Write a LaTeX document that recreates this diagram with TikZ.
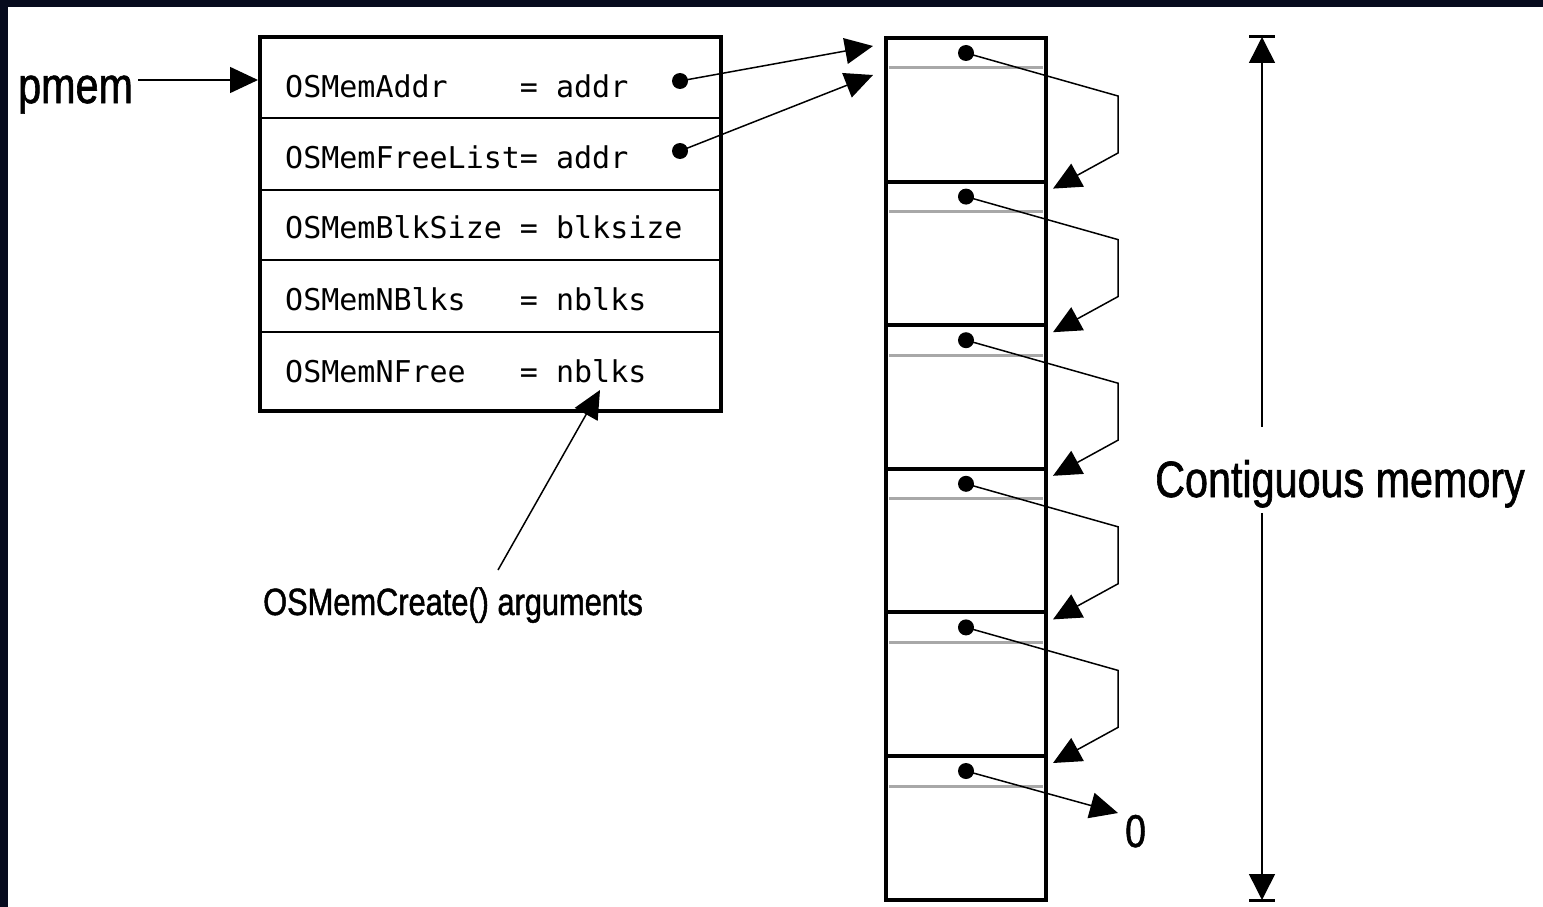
\documentclass[tikz,border=0pt]{standalone}
\usepackage{fontspec}
\setmainfont{Liberation Sans}
\newfontfamily\lblfont[FakeStretch=0.81,FakeBold=1.2]{Liberation Sans}
\newfontfamily\codefont{DejaVu Sans Mono}
\usetikzlibrary{arrows.meta}
\definecolor{slidebg}{HTML}{070B1E}
\definecolor{rulegray}{HTML}{A8A8A8}
\tikzset{
  bigtip/.style={-{Triangle[length=28pt,width=26pt]}},
  link/.style={line width=1.5pt,bigtip},
  field/.style={anchor=base west,inner sep=0pt,font=\codefont\fontsize{30}{30}\selectfont},
  dot/.style={circle,fill=black,inner sep=0pt,minimum size=16pt},
  biglbl/.style={anchor=base west,inner sep=0pt,font=\lblfont\fontsize{51}{51}\selectfont},
}
\begin{document}
\begin{tikzpicture}[x=1pt,y=-1pt]
\fill[slidebg] (0,0) rectangle (1543,907);
\fill[white] (8,7) rectangle (1543,907);
\useasboundingbox (0,0) rectangle (1543,907);
% memory control block
\draw[line width=1.8pt] (260,118) -- (721,118) (260,190) -- (721,190)
  (260,260) -- (721,260) (260,332) -- (721,332);
\draw[line width=4pt] (260,37) rectangle (721,411);
\node[field] (faddr) at (285,97) {OSMemAddr~~~~= addr};
\node[field] (ffree) at (285,168) {OSMemFreeList= addr};
\node[field] (fsize) at (285,238) {OSMemBlkSize = blksize};
\node[field] (fnblk) at (285,310) {OSMemNBlks~~~= nblks};
\node[field] (fnfree) at (285,382) {OSMemNFree~~~= nblks};
\node[dot] (daddr) at (680,81) {};
\node[dot] (dfree) at (680,151) {};
\node[biglbl] (pmem) at (18,103) {pmem};
\coordinate (cbin) at (258,80);
\draw[link] ([xshift=5pt]pmem.east |- cbin) -- (cbin);
\node[biglbl,font=\lblfont\fontsize{38}{38}\selectfont] (args) at (263,615) {OSMemCreate() arguments};
\coordinate (argfoot) at (498,570);
\coordinate (arghead) at (600,390);
\draw[link] (argfoot) -- (arghead);
% partition of blocks
\draw[line width=4pt] (886,38) rectangle (1046,900);
\foreach \k [evaluate=\k as \d using 38+143.6*\k] in {0,...,5}{
  \ifnum\k>0 \draw[line width=4pt] (886,\d) -- (1046,\d); \fi
  \draw[rulegray,line width=3pt] (889,\d+30) -- (1043,\d+30);
  \node[dot] (blk\k) at (966,\d+15) {};
  \coordinate (blkin\k) at (1053,\d+7);
}
\coordinate (memtopa) at (873,46);
\coordinate (memtopb) at (873,75);
\draw[link] (daddr.center) -- (memtopa);
\draw[link] (dfree.center) -- (memtopb);
\foreach \k [evaluate=\k as \j using int(\k+1)] in {0,...,4}{
  \draw[link] (blk\k.center) -- ++(152,43) -- ++(0,57) -- (blkin\j);
}
\node[biglbl,font=\lblfont\fontsize{46}{46}\selectfont] (nil) at (1125,847) {0};
\coordinate (nilin) at (1118,813);
\draw[link] (blk5.center) -- (nilin);
% size of the partition
\node[biglbl] (contig) at (1155,497) {Contiguous memory};
\coordinate (dimtop) at (1262,37);
\coordinate (dimbot) at (1262,900);
\draw[link,-{Triangle[length=26pt,width=26pt]}] (contig.north -| dimtop) ++(0,-33) -- (dimtop);
\draw[link,-{Triangle[length=26pt,width=26pt]}] (contig.south -| dimbot) ++(0,5) -- (dimbot);
\draw[line width=3pt] ([xshift=-13pt]dimtop) -- ([xshift=13pt]dimtop);
\draw[line width=3pt] ([xshift=-13pt]dimbot) -- ([xshift=13pt]dimbot);
\end{tikzpicture}
\end{document}
